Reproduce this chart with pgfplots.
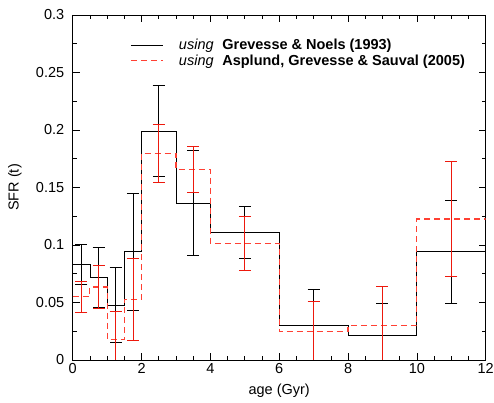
\documentclass[border=0pt]{standalone}
\usepackage{fontspec}
\setmainfont{Liberation Sans}
\usepackage{pgfplots}
\pgfplotsset{compat=1.18}
\definecolor{sfrred}{rgb}{1,0.25,0.2}
\definecolor{barred}{rgb}{0.93,0.1,0.05}
\begin{document}
\begin{tikzpicture}
\begin{axis}[
  scale only axis,
  width=413pt, height=345pt,
  xmin=0, xmax=12, ymin=0, ymax=0.3,
  xtick={0,2,4,6,8,10,12},
  ytick={0,0.05,0.1,0.15,0.2,0.25,0.3},
  minor x tick num=3,
  minor y tick num=1,
  major tick length=7pt,
  minor tick length=4pt,
  tick align=inside,
  tick style={black, line width=0.6pt},
  axis line style={line width=0.8pt},
  scaled y ticks=false,
  /pgf/number format/assume math mode=true,
  yticklabel style={/pgf/number format/fixed, /pgf/number format/precision=2, xshift=-5pt},
  tick label style={font=\fontsize{14.5}{17}\selectfont},
  label style={font=\fontsize{14.5}{17}\selectfont},
  xlabel={age (Gyr)},
  ylabel={SFR (t)},
  xlabel style={at={(axis description cs:0.5,-0.09)}, anchor=center},
  ylabel style={at={(axis description cs:-0.14,0.5)}, anchor=center},
  legend style={draw=none, fill=none, at={(axis cs:1.67,0.2803)}, anchor=north west,
    inner sep=0pt, row sep=0.5pt, column sep=0pt,
    nodes={inner sep=1.5pt},
    font=\fontsize{14.5}{17}\selectfont},
  legend cell align=left,
  legend image code/.code={\draw[#1] (0pt,0pt) -- (32pt,0pt);},
]
% black step histogram (Grevesse & Noels 1993)
\addplot[black, line width=0.8pt, const plot] coordinates {
 (0,0.083) (0.5,0.0715) (1,0.0476) (1.5,0.094) (2,0.199) (3,0.1365) (4,0.111) (6,0.0303) (8,0.021) (10,0.094) (12,0.094)};
\addlegendentry{\hspace{14pt}\textit{using}\hspace{0.6em}\textbf{Grevesse \& Noels (1993)}}
% red dashed step histogram (Asplund et al. 2005)
\addplot[sfrred, line width=1.1pt, dash pattern=on 6pt off 4pt, const plot] coordinates {
 (0,0.055) (0.5,0.0635) (1,0.018) (1.5,0.0525) (2,0.1797) (3,0.166) (4,0.1016) (6,0.0248) (8,0.0297) (10,0.1226) (12,0.1226)};
\addlegendentry{\hspace{14pt}\textit{using}\hspace{0.6em}\textbf{Asplund, Grevesse \& Sauval (2005)}}
% black error bars
\addplot[black, only marks, mark=*, mark size=0pt, forget plot,
  error bars/.cd, y dir=both, y explicit,
  error mark=|,
  error bar style={black, line width=0.8pt, solid},
  error mark options={black, mark size=6pt, line width=0.8pt}]
  table[x=x, y=y, y error=e] {
x y e
0.25 0.083 0.0175
0.75 0.0715 0.026
1.25 0.0476 0.0325
1.75 0.094 0.0505
2.5 0.199 0.0395
3.5 0.1365 0.0455
5 0.111 0.0225
7 0.0303 0.031
9 0.021 0.028
11 0.094 0.0445
};
% red error bars
\addplot[barred, only marks, mark=*, mark size=0pt, forget plot,
  error bars/.cd, y dir=both, y explicit,
  error mark=|,
  error bar style={barred, line width=0.8pt, solid},
  error mark options={barred, mark size=6pt, line width=0.8pt}]
  table[x=x, y=y, y error=e] {
x y e
0.25 0.055 0.0135
0.75 0.0635 0.019
1.25 0.018 0.024
1.75 0.0525 0.0355
2.5 0.1797 0.025
3.5 0.166 0.020
5 0.1016 0.0235
7 0.0248 0.026
9 0.0297 0.034
11 0.1226 0.050
};
\end{axis}
\pgfresetboundingbox
\path[use as bounding box] ([xshift=-72.7pt,yshift=-43pt]current axis.south west) rectangle ([xshift=8.3pt,yshift=15pt]current axis.north east);
\end{tikzpicture}
\end{document}
